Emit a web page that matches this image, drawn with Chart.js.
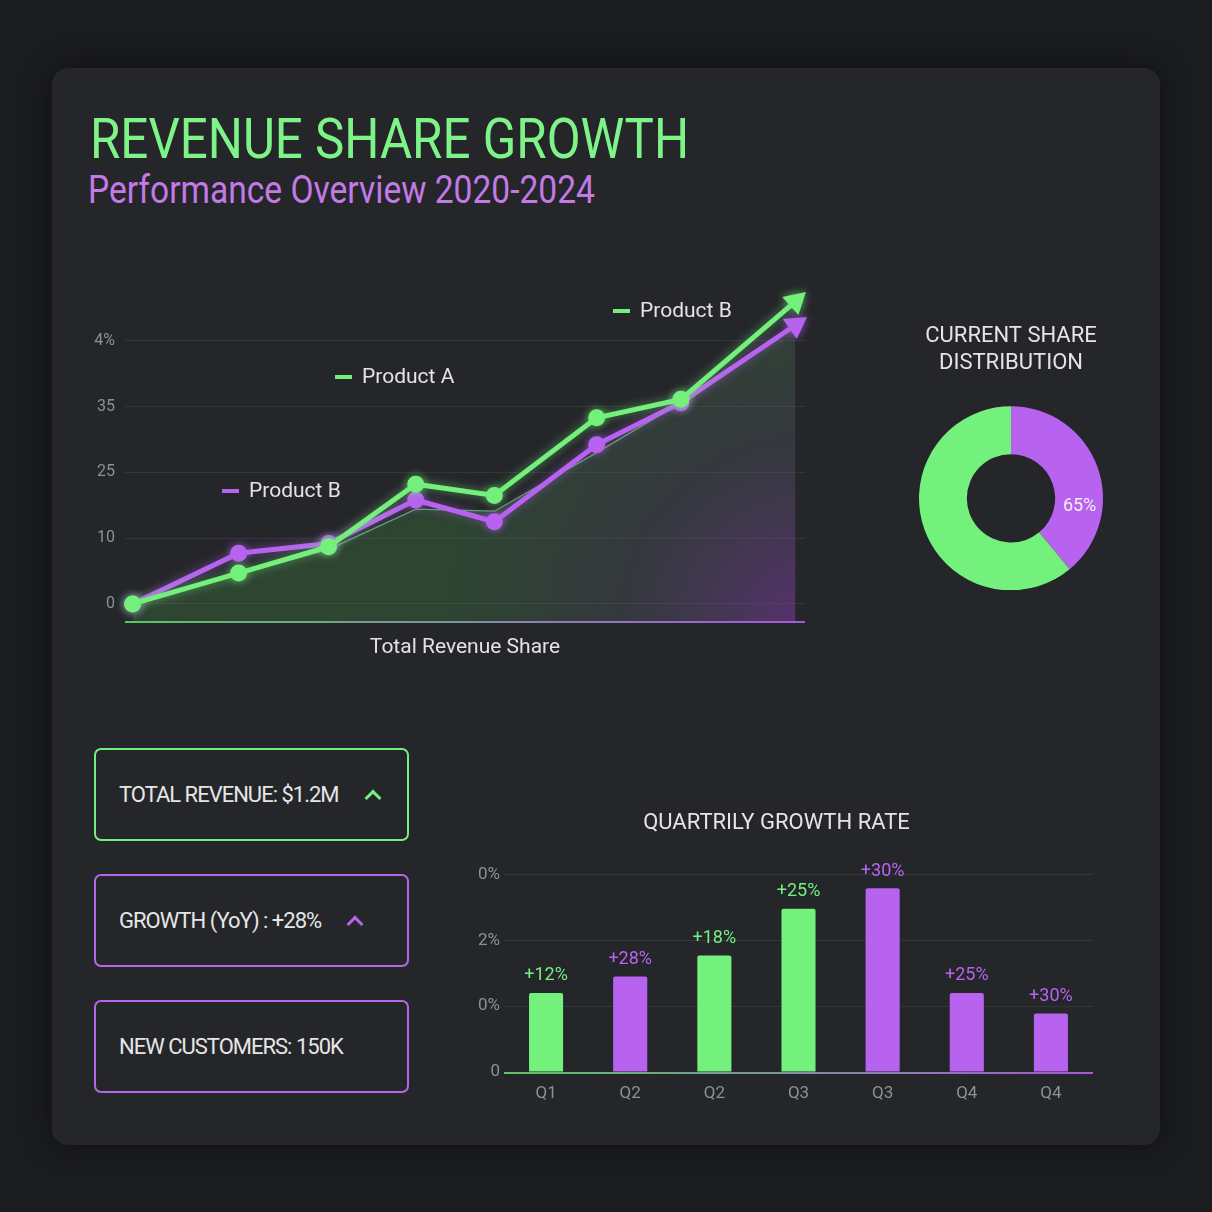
<!DOCTYPE html>
<html>
<head>
<meta charset="utf-8">
<script src="https://cdn.jsdelivr.net/npm/chart.js@4.4.1/dist/chart.umd.min.js"></script>
<style>
  html, body { margin: 0; padding: 0; }
  body {
    width: 1212px; height: 1212px; overflow: hidden; position: relative;
    background: #1b1c1f; font-family: Roboto, "Noto Sans", sans-serif;
  }
  .card {
    position: absolute; left: 52px; top: 68px; width: 1108px; height: 1077px;
    background: #25262a; border-radius: 16px; box-shadow: 0 0 30px rgba(0,0,0,0.45);
  }
  h1, h2 { position: absolute; margin: 0; line-height: 1; font-weight: 400; white-space: nowrap; transform-origin: 0 0; }
  h1 { left: 90px; top: 111px; font-size: 56px; color: #7ef488; transform: scaleX(0.88); }
  h2 { left: 88px; top: 171px; font-size: 38px; color: #c47ae6; transform: scaleX(0.883); }
  .wrap { position: absolute; }
  .box {
    position: absolute; left: 94px; width: 315px; height: 93px; box-sizing: border-box;
    border: 2.5px solid #b466e6; border-radius: 7px;
    display: flex; align-items: center; padding-left: 23px;
    color: #e6e6e6; font-size: 22px; letter-spacing: -1px; white-space: nowrap;
  }
  .box.green { border-color: #74ee7c; }
  .chev {
    display: inline-block; width: 9px; height: 9px; margin-left: 28px; margin-top: 6px;
    border-top: 3.5px solid #b466e6; border-left: 3.5px solid #b466e6;
    transform: rotate(45deg);
  }
  .green .chev { border-color: #74ee7c; }
</style>
</head>
<body>
<div class="card"></div>
<h1>REVENUE SHARE GROWTH</h1>
<h2>Performance Overview 2020-2024</h2>

<div class="wrap" style="left:80px; top:280px; width:740px; height:380px;"><canvas id="lineChart"></canvas></div>
<div class="wrap" style="left:900px; top:310px; width:222px; height:280px;"><canvas id="shareChart"></canvas></div>
<div class="wrap" style="left:460px; top:800px; width:640px; height:306px;"><canvas id="barChart"></canvas></div>

<div class="box green" style="top:748px;">TOTAL REVENUE: $1.2M<span class="chev"></span></div>
<div class="box" style="top:874px;">GROWTH (YoY) : +28%<span class="chev"></span></div>
<div class="box" style="top:1000px;">NEW CUSTOMERS: 150K</div>

<script>
// Dữ liệu biểu đồ đường
const lineTickLabels = ["0", "10", "25", "35", "4%"];
const periods = [0, 1.12, 2.07, 2.99, 3.82, 4.9, 5.79, 7];
const productA = [0, 0.47, 0.87, 1.82, 1.65, 2.83, 3.11, 4.6];
const productB = [0, 0.77, 0.92, 1.58, 1.25, 2.42, 3.06, 4.24];
const totalShare = [0, 0.45, 0.83, 1.44, 1.41, 2.3, 3.06, 4.24];

// Dữ liệu biểu đồ tròn
const shareLabels = ["Product B", "Product A"];
const shareValues = [39, 61];
const shareText = "65%";

// Dữ liệu biểu đồ cột
const quarters = ["Q1", "Q2", "Q2", "Q3", "Q3", "Q4", "Q4"];
const growthValues = [1.2, 1.45, 1.77, 2.48, 2.79, 1.2, 0.89];
const growthLabels = ["+12%", "+28%", "+18%", "+25%", "+30%", "+25%", "+30%"];
const growthSeries = ["A", "B", "A", "A", "B", "B", "B"];
const barTickLabels = ["0", "0%", "2%", "0%"];

const GREEN = "#74f07d";
const PURPLE = "#b863f0";
const TICK = "#8d9095";
const GRID = "rgba(255,255,255,0.07)";

Chart.defaults.font.family = "Roboto, 'Noto Sans', sans-serif";
Chart.defaults.animation = false;

function axisLine(chart, y) {
  const { ctx, chartArea } = chart;
  const g = ctx.createLinearGradient(chartArea.left, 0, chartArea.right, 0);
  g.addColorStop(0, "#5cc466");
  g.addColorStop(1, "#a558d8");
  ctx.save();
  ctx.strokeStyle = g;
  ctx.lineWidth = 2;
  ctx.beginPath();
  ctx.moveTo(chartArea.left, y);
  ctx.lineTo(chartArea.right, y);
  ctx.stroke();
  ctx.restore();
}

// Chú thích trong biểu đồ đường
const lineNotes = [
  { text: "Product B", color: PURPLE, x: 142, y: 211 },
  { text: "Product A", color: GREEN, x: 255, y: 97 },
  { text: "Product B", color: GREEN, x: 533, y: 31 },
];

const lineExtras = {
  id: "lineExtras",
  beforeDatasetDraw(chart, args) {
    if (args.index === 0) return;
    const ctx = chart.ctx;
    ctx.save();
    ctx.shadowColor = args.index === 2 ? "rgba(116,240,125,0.55)" : "rgba(184,99,240,0.55)";
    ctx.shadowBlur = 10;
  },
  afterDatasetDraw(chart, args) {
    if (args.index === 0) return;
    chart.ctx.restore();
  },
  afterDatasetsDraw(chart) {
    const ctx = chart.ctx;
    axisLine(chart, chart.chartArea.bottom);
    ctx.save();
    ctx.font = "21px Roboto";
    ctx.textBaseline = "middle";
    lineNotes.forEach((n) => {
      ctx.fillStyle = n.color;
      ctx.fillRect(n.x, n.y - 2, 17, 4);
      ctx.fillStyle = "#e4e4e4";
      ctx.fillText(n.text, n.x + 27, n.y + 1);
    });
    ctx.restore();
  },
};

const toXY = (arr) => arr.map((v, i) => ({ x: periods[i], y: v }));
const last = productA.length - 1;
const pointStyles = productA.map((_, i) => (i === last ? "triangle" : "circle"));
const pointSizes = productA.map((_, i) => (i === last ? 9 : 6));

new Chart(document.getElementById("lineChart"), {
  type: "line",
  data: {
    datasets: [
      {
        label: "Total",
        data: toXY(totalShare),
        borderColor: "rgba(110,220,120,0.7)",
        borderWidth: 1.2,
        pointRadius: 0,
        fill: "start",
        order: 3,
        backgroundColor: (c) => {
          const a = c.chart.chartArea;
          if (!a) return "rgba(70,150,70,0.25)";
          const g = c.chart.ctx.createRadialGradient(a.right, a.bottom, 0, a.right, a.bottom, 360);
          g.addColorStop(0, "rgba(140,60,180,0.5)");
          g.addColorStop(0.5, "rgba(90,100,110,0.3)");
          g.addColorStop(1, "rgba(70,150,70,0.28)");
          return g;
        },
      },
      {
        label: "Product B",
        data: toXY(productB),
        borderColor: PURPLE,
        backgroundColor: PURPLE,
        borderWidth: 5,
        pointStyle: pointStyles,
        pointRadius: pointSizes,
        pointRotation: productB.map((_, i) => (i === last ? 55 : 0)),
        clip: false,
        order: 2,
      },
      {
        label: "Product A",
        data: toXY(productA),
        borderColor: GREEN,
        backgroundColor: GREEN,
        borderWidth: 5,
        pointStyle: pointStyles,
        pointRadius: pointSizes,
        pointRotation: productA.map((_, i) => (i === last ? 48 : 0)),
        clip: false,
        order: 1,
      },
    ],
  },
  options: {
    responsive: true,
    maintainAspectRatio: false,
    layout: { padding: { top: 20, right: 15, left: 0, bottom: 0 } },
    plugins: { legend: { display: false }, tooltip: { enabled: false } },
    scales: {
      x: {
        type: "linear",
        min: -0.08,
        max: 7.1,
        grid: { display: false, drawTicks: false },
        border: { display: false },
        ticks: { display: false },
        title: {
          display: true,
          text: "Total Revenue Share",
          color: "#e2e2e2",
          font: { size: 21 },
          padding: { top: 14, bottom: 0 },
        },
        afterFit: (s) => { s.height = 38; },
      },
      y: {
        min: -0.274,
        max: 4.62,
        afterBuildTicks: (s) => { s.ticks = lineTickLabels.map((_, i) => ({ value: i })); },
        afterFit: (s) => { s.width = 45; },
        grid: { color: GRID, drawTicks: false },
        border: { display: false },
        ticks: {
          color: TICK,
          font: { size: 16 },
          padding: 10,
          callback: (v, i) => lineTickLabels[i],
        },
      },
    },
  },
  plugins: [lineExtras],
});

// Biểu đồ tròn
const shareExtras = {
  id: "shareExtras",
  afterDatasetsDraw(chart) {
    const arc = chart.getDatasetMeta(0).data[0];
    const ang = arc.startAngle + 0.69 * (arc.endAngle - arc.startAngle);
    const r = (arc.innerRadius + arc.outerRadius) / 2 + 1;
    const ctx = chart.ctx;
    ctx.save();
    ctx.font = "18px Roboto";
    ctx.fillStyle = "#f2f2f2";
    ctx.textAlign = "center";
    ctx.textBaseline = "middle";
    ctx.fillText(shareText, arc.x + r * Math.cos(ang), arc.y + r * Math.sin(ang));
    ctx.restore();
  },
};

new Chart(document.getElementById("shareChart"), {
  type: "doughnut",
  data: {
    labels: shareLabels,
    datasets: [{
      data: shareValues,
      backgroundColor: [PURPLE, GREEN],
      borderWidth: 0,
      radius: 92,
      cutout: 44,
    }],
  },
  options: {
    responsive: true,
    maintainAspectRatio: false,
    plugins: {
      legend: { display: false },
      tooltip: { enabled: false },
      title: {
        display: true,
        text: ["CURRENT SHARE", "DISTRIBUTION"],
        color: "#e4e4e4",
        font: { size: 22, weight: "normal", lineHeight: 1.22 },
        padding: { top: 13, bottom: 30 },
      },
    },
  },
  plugins: [shareExtras],
});

// Biểu đồ cột
const barColors = growthSeries.map((s) => (s === "A" ? GREEN : PURPLE));

const barExtras = {
  id: "barExtras",
  afterDatasetsDraw(chart) {
    const ctx = chart.ctx;
    axisLine(chart, chart.chartArea.bottom + 1);
    ctx.save();
    ctx.font = "18px Roboto";
    ctx.textAlign = "center";
    ctx.textBaseline = "middle";
    chart.getDatasetMeta(0).data.forEach((bar, i) => {
      ctx.fillStyle = barColors[i];
      ctx.fillText(growthLabels[i], bar.x, bar.y - 17);
    });
    ctx.restore();
  },
};

new Chart(document.getElementById("barChart"), {
  type: "bar",
  data: {
    labels: quarters,
    datasets: [{
      data: growthValues,
      backgroundColor: barColors,
      borderRadius: 2,
      barPercentage: 0.405,
      categoryPercentage: 1,
    }],
  },
  options: {
    responsive: true,
    maintainAspectRatio: false,
    layout: { padding: { left: 0, right: 7, top: 0, bottom: 0 } },
    plugins: {
      legend: { display: false },
      tooltip: { enabled: false },
      title: {
        display: true,
        text: "QUARTRILY GROWTH RATE",
        color: "#e4e4e4",
        font: { size: 22, weight: "normal" },
        padding: { top: 10, bottom: 38 },
      },
    },
    scales: {
      x: {
        grid: { display: false, drawTicks: false },
        border: { display: false },
        ticks: { color: TICK, font: { size: 17 }, padding: 12 },
        afterFit: (s) => { s.height = 34; },
      },
      y: {
        min: 0,
        max: 3,
        afterBuildTicks: (s) => { s.ticks = barTickLabels.map((_, i) => ({ value: i })); },
        afterFit: (s) => { s.width = 44; },
        grid: { color: GRID, drawTicks: false },
        border: { display: false },
        ticks: {
          color: TICK,
          font: { size: 17 },
          padding: 4,
          callback: (v, i) => barTickLabels[i],
        },
      },
    },
  },
  plugins: [barExtras],
});
</script>
</body>
</html>
